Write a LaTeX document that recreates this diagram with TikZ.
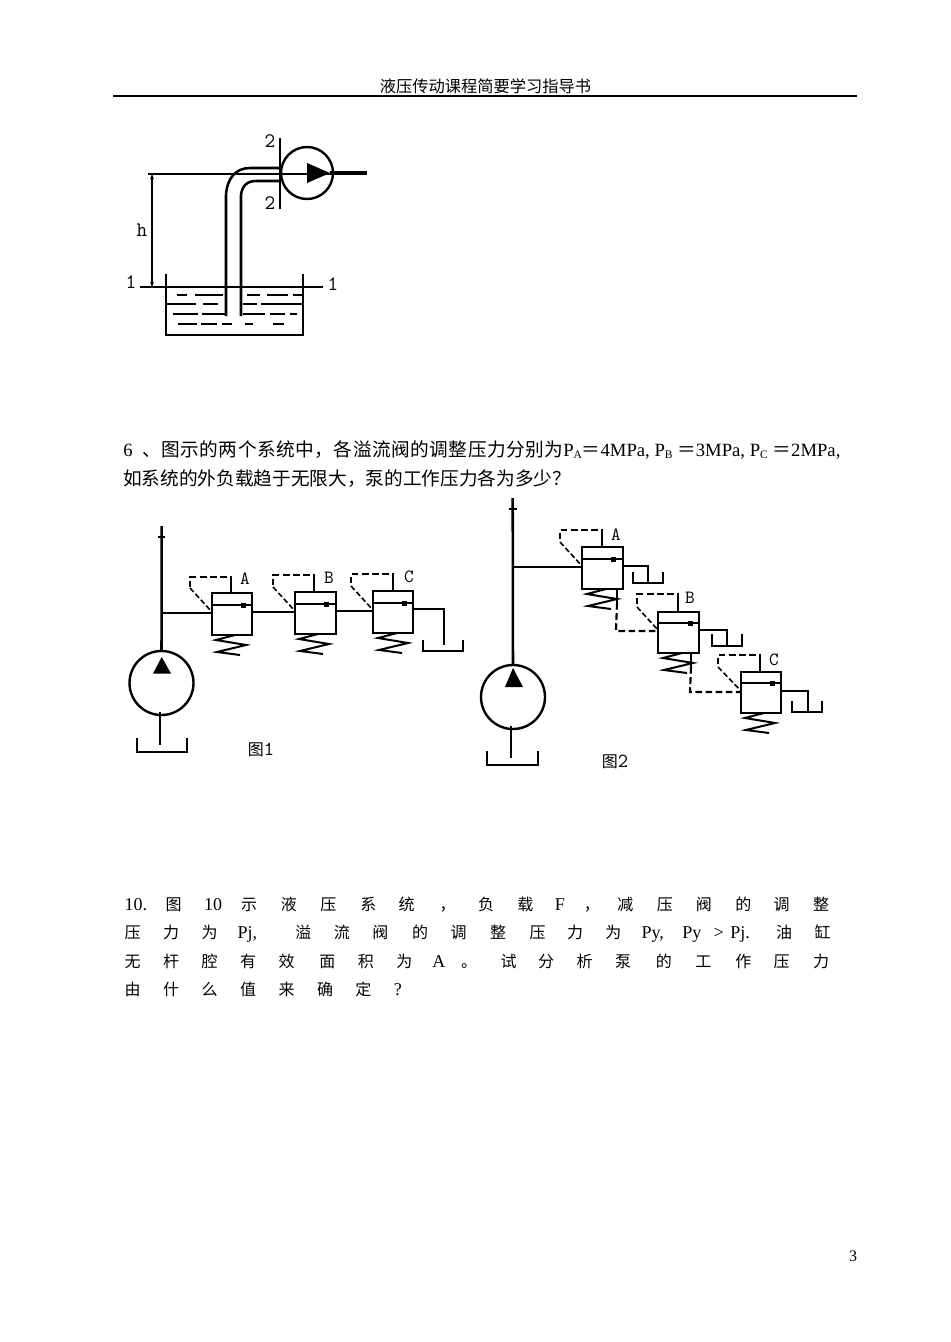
\documentclass[tikz,border=0pt]{standalone}
\usepackage{fontspec}
\usetikzlibrary{arrows.meta}
\setmainfont{Liberation Serif}
\newfontfamily\cjk{Noto Sans CJK SC}
\newfontfamily\cjkw[LetterSpace=2.7]{Noto Sans CJK SC}
\newcommand{\latn}{\rmfamily\fontsize{13.5}{13.5}\selectfont}
\tikzset{
 pipe/.style={line width=1.9pt,line join=miter},
 thin line/.style={line width=0.95pt},
 dash pipe/.style={line width=1.6pt,dash pattern=on 5pt off 2.6pt},
 liquid/.style={line width=0.9pt},
 label/.style={inner sep=0pt},
 body/.style={inner sep=0pt,anchor=base west},
}
\newcommand{\tank}[4]{\draw[pipe] (#1,#3) -- (#1,#4) -- (#2,#4) -- (#2,#3);}
\newcommand{\spring}[2]{\draw[line width=1.5pt] (#1+4,#2) -- (#1-15,#2+5) -- (#1+15,#2+10) -- (#1-14,#2+17) -- (#1+9,#2+20);}
\newcommand{\lsub}[1]{\raisebox{-0.25ex}{\fontsize{8.6}{8.6}\selectfont #1}}
\begin{document}
\begin{tikzpicture}[x=0.75pt,y=-0.75pt]
\useasboundingbox[fill=white] (0,0) rectangle (950,1342);
% header
\node[font=\cjk\fontsize{12.2}{12.2}\selectfont,inner sep=0pt] (hd) at (485.5,86) {液压传动课程简要学习指导书};
\coordinate (hl) at (113,96); \coordinate (hr) at (857,96);
\draw[line width=0.8pt] (hl) -- (hr);
\node[font=\fontsize{12}{12}\selectfont,inner sep=0pt] (pg) at (853,1256) {3};
% ---- top figure
\coordinate (tl) at (166,274); \coordinate (tb) at (166,335); \coordinate (tbr) at (303,335); \coordinate (tr) at (303,274);
\draw[pipe] (tl) -- (tb) -- (tbr) -- (tr);
\node[circle,draw,line width=1.8pt,minimum size=39pt,inner sep=0pt] (p0) at (307,173) {};
\draw[pipe] (226,316) -- (226,195) .. controls (227,178) and (236,168) .. (250,168) -- (280,168);
\draw[pipe] (241,316) -- (241,195) .. controls (242,186) and (247,181) .. (256,181) -- (280,181);
\fill (307,163) -- (330,173) -- (307,183) -- cycle;
\draw[line width=2.8pt] (330,173) -- (367,173);
\coordinate (l1a) at (140,287); \coordinate (l1b) at (323,287);
\draw[thin line] (l1a) -- (l1b);
\coordinate (r1a) at (148,174); \coordinate (r1b) at (330,174);
\draw[thin line] (r1a) -- (r1b);
\coordinate (d1) at (152,174); \coordinate (d2) at (152,287);
\draw[thin line,{Stealth[length=4pt,width=3pt]}-{Stealth[length=4pt,width=3pt]}] (d1) -- (d2);
\coordinate (s1) at (280,138); \coordinate (s2) at (280,209);
\draw[thin line] (s1) -- (s2);
\node[label,font=\ttfamily\fontsize{15.5}{15.5}\selectfont] (h) at (142,230) {h};
\node[label,font=\ttfamily\fontsize{15.5}{15.5}\selectfont] (n1) at (131,282) {1};
\node[label,font=\ttfamily\fontsize{15.5}{15.5}\selectfont] (n2) at (333,284) {1};
\node[label,font=\ttfamily\fontsize{15.5}{15.5}\selectfont] (n3) at (270,141) {2};
\node[label,font=\ttfamily\fontsize{15.5}{15.5}\selectfont] (n4) at (270,203) {2};
% liquid dashes
\foreach \a/\b/\y in {177/187/295,195/223/295,247/260/295,267/288/295,293/302/295,
 167/196/304,203/218/304,243/257/304,261/302/304,
 173/198/314,202/225/314,243/265/314,270/285/314,290/297/314,
 178/197/324,201/217/324,222/232/324,245/253/324,273/284/324}
 \draw[liquid] (\a,\y) -- (\b,\y);
% ---- text
\node[body,font=\fontsize{14}{14}\selectfont] (t6a) at (123,456) {6};
\node[body,font=\cjkw\fontsize{14}{14}\selectfont] (t6b) at (142,456) {、图示的两个系统中，各溢流阀的调整压力分别为};
\node[body,font=\fontsize{14}{14}\selectfont] (t6c) at (563,456) {P\lsub{A}\cjk＝\rmfamily 4MPa, P\lsub{B} \cjk＝\rmfamily 3MPa, P\lsub{C} \cjk＝\rmfamily 2MPa,};
\node[body,font=\cjk\fontsize{14}{14}\selectfont] (t6d) at (123,485) {如系统的外负载趋于无限大，泵的工作压力各为多少？};
% ---- fig 1
\coordinate (f1top) at (161.7,526); \coordinate (f1j) at (161.7,613);
\node[circle,draw,line width=1.8pt,minimum size=48pt,inner sep=0pt] (pump1) at (161.5,683) {};
\draw[pipe] (f1top) -- (pump1.north);
\draw[line width=1.8pt] (158,537) -- (165,537);
\fill (161.7,657) -- (171,673.5) -- (153,673.5) -- cycle;
\coordinate (f1o) at (160,745);
\draw[pipe] (160,712) -- (f1o);
\tank{137}{187}{738}{752}
\foreach \n/\L/\T/\R/\B/\I/\Dt/\Tx/\Up/\Lx/\Dn/\E/\Lab/\Lbx/\Lby in {
 a/212/593/252/635/605/243/231/577/190/588/612/A/245/579,
 b/295/592/336/634/604/326/314/575/273/587/611/B/329/578,
 c/373/591/413/633/603/404/393/574/351/586/610/C/409/577}{
 \coordinate (v1\n tl) at (\L,\T); \coordinate (v1\n br) at (\R,\B);
 \draw[pipe] (v1\n tl) rectangle (v1\n br);
 \draw[line width=1.4pt] (\L,\I) -- (\R,\I);
 \fill (\Dt-2.5,\I-2.5) rectangle (\Dt+2.5,\I+2.5);
 \draw[pipe] (\Tx,\T) -- (\Tx,\Up+6);
 \draw[dash pipe] (\Tx,\Up+6) -- (\Tx,\Up) -- (\Lx,\Up) -- (\Lx,\Dn);
 \draw[line width=1.2pt,dash pattern=on 4pt off 2pt] (\Lx,\Dn) -- (\L,\E);
 \spring{\Tx}{\B}
 \node[label,font=\ttfamily\fontsize{14}{14}\selectfont] (l1\n) at (\Lbx,\Lby) {\Lab};
}
\draw[pipe] (f1j) -- (212,613);
\draw[pipe] (252,612) -- (295,612);
\draw[pipe] (336,611) -- (373,611);
\draw[pipe] (413,609) -- (444,609) -- (444,645);
\tank{423}{463}{640}{651}
\node[label,font=\cjk\fontsize{12}{12}\selectfont] (c1) at (261,750) {图{\ttfamily\fontsize{15}{15}\selectfont 1}};
% ---- fig 2
\coordinate (f2top) at (512.7,498); \coordinate (f2j) at (512.7,567);
\node[circle,draw,line width=1.8pt,minimum size=48pt,inner sep=0pt] (pump2) at (513,697) {};
\draw[pipe] (f2top) -- (pump2.north);
\draw[line width=1.8pt] (509,509) -- (516.5,509);
\fill (513,668) -- (523,687) -- (505,687) -- cycle;
\draw[pipe] (511,726) -- (511,758);
\tank{487}{538}{751}{765}
\foreach \n/\L/\T/\R/\B/\I/\Dt/\Tx/\Up/\Lx/\Dn/\E/\Lab/\Lbx/\Lby in {
 a/582/547/623/589/559/613/602/530/560/542/566/A/616/535,
 b/658/612/699/653/623/690/678/594/637/607/630/B/690/598,
 c/741/672/781/713/683/772/760/655/718/667/691/C/774/660}{
 \coordinate (v2\n tl) at (\L,\T); \coordinate (v2\n br) at (\R,\B);
 \draw[pipe] (v2\n tl) rectangle (v2\n br);
 \draw[line width=1.4pt] (\L,\I) -- (\R,\I);
 \fill (\Dt-2.5,\I-2.5) rectangle (\Dt+2.5,\I+2.5);
 \draw[pipe] (\Tx,\T) -- (\Tx,\Up+6);
 \draw[dash pipe] (\Tx,\Up+6) -- (\Tx,\Up) -- (\Lx,\Up) -- (\Lx,\Dn);
 \draw[line width=1.2pt,dash pattern=on 4pt off 2pt] (\Lx,\Dn) -- (\L,\E);
 \spring{\Tx}{\B}
 \node[label,font=\ttfamily\fontsize{14}{14}\selectfont] (l2\n) at (\Lbx,\Lby) {\Lab};
}
\draw[pipe] (f2j) -- (582,567);
\draw[pipe] (623,566) -- (648,566) -- (648,583);
\tank{633}{663}{572}{583}
\draw[pipe] (699,630) -- (727,630) -- (727,646);
\tank{712}{742}{634}{646}
\draw[pipe] (781,691) -- (808,691) -- (808,712);
\tank{792}{822}{701}{712}
\draw[line width=1.3pt] (617,589) -- (617,603);
\draw[dash pipe] (617,603) -- (616,631) -- (658,631);
\draw[line width=1.3pt] (691,653) -- (691,667);
\draw[dash pipe] (691,667) -- (690,692) -- (741,692);
\node[label,font=\cjk\fontsize{12}{12}\selectfont] (c2) at (615,762) {图{\ttfamily\fontsize{15}{15}\selectfont 2}};
% ---- question 10
\foreach \z/\s [count=\i] in {30/{\latn 10.},115/图,195/{\latn 10},272/示,355/液,437/压,520/系,600/统,685/，,765/负,847/载,925/{\latn F},985/，,1055/减,1137/压,1218/阀,1300/的,1380/调,1462/整}
 \node[body,font=\cjk\fontsize{12}{12}\selectfont] (qa\i) at ({110+\z/2.08},910) {\s};
\foreach \z/\s [count=\i] in {30/压,110/力,190/为,265/{\latn Pj,},385/溢,465/流,545/阀,628/的,708/调,790/整,872/压,950/力,1030/为,1105/{\latn Py,},1190/{\latn Py},1255/{\latn >},1290/{\latn Pj.},1385/油,1465/缸}
 \node[body,font=\cjk\fontsize{12}{12}\selectfont] (qb\i) at ({110+\z/2.08},938) {\s};
\foreach \z/\s [count=\i] in {30/无,110/杆,190/腔,270/有,350/效,435/面,515/积,595/为,670/{\latn A},730/。,812/试,890/分,970/析,1050/泵,1135/的,1217/工,1300/作,1380/压,1462/力}
 \node[body,font=\cjk\fontsize{12}{12}\selectfont] (qc\i) at ({110+\z/2.08},967) {\s};
\foreach \z/\s [count=\i] in {30/由,110/什,190/么,270/值,350/来,430/确,510/定,590/{\latn ?}}
 \node[body,font=\cjk\fontsize{12}{12}\selectfont] (qd\i) at ({110+\z/2.08},995) {\s};
\end{tikzpicture}
\end{document}
